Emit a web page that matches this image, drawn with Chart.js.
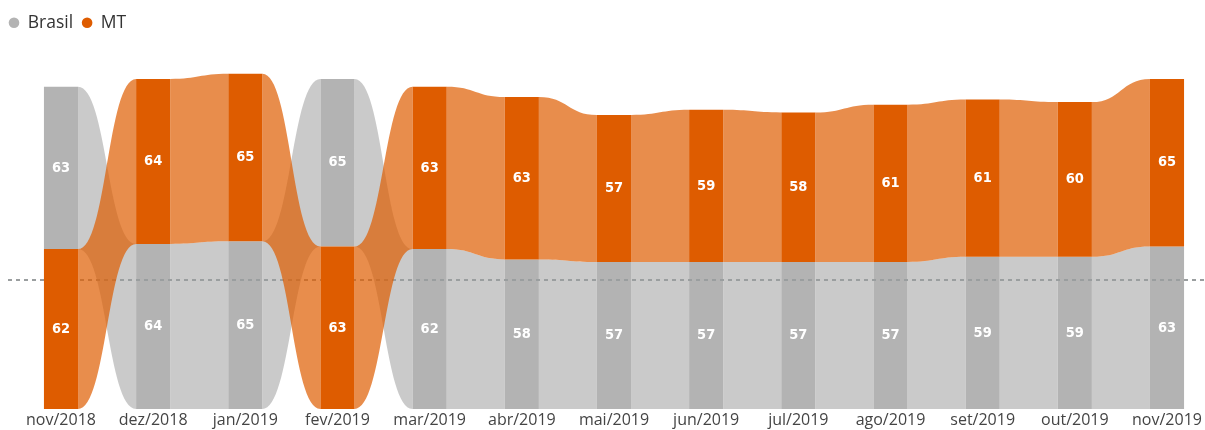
<!DOCTYPE html>
<html>
<head>
<meta charset="utf-8">
<script src="https://cdn.jsdelivr.net/npm/chart.js@4/dist/chart.umd.min.js"></script>
<style>
  html, body { margin: 0; padding: 0; background: #fff; }
  #wrap { width: 1205px; height: 430px; }
</style>
</head>
<body>
<div id="wrap"><canvas id="chart"></canvas></div>
<script>
const months = ['nov/2018', 'dez/2018', 'jan/2019', 'fev/2019', 'mar/2019', 'abr/2019', 'mai/2019',
  'jun/2019', 'jul/2019', 'ago/2019', 'set/2019', 'out/2019', 'nov/2019'];
const brasil = [63, 64, 65, 65, 62, 58, 57, 57, 57, 57, 59, 59, 63];
const mt = [62, 64, 65, 63, 63, 63, 57, 59, 58, 61, 61, 60, 65];
const refLine = 50;

const grayBar = '#b3b3b3';
const grayRibbon = 'rgba(179,179,179,0.7)';
const orangeBar = '#de5c00';
const orangeRibbon = 'rgba(222,92,0,0.7)';

// ribbon chart: the bigger value sits on top (ties -> MT on top)
const brasilTop = brasil.map((b, i) => b > mt[i]);
const brasilBars = brasil.map((b, i) => brasilTop[i] ? [mt[i], mt[i] + b] : [0, b]);
const mtBars = mt.map((m, i) => brasilTop[i] ? [0, m] : [brasil[i], brasil[i] + m]);

function drawRibbons(chart, dsIndex, color) {
  const ctx = chart.ctx;
  const bars = chart.getDatasetMeta(dsIndex).data;
  ctx.save();
  ctx.fillStyle = color;
  for (let i = 0; i < bars.length - 1; i++) {
    const a = bars[i], b = bars[i + 1];
    const x0 = a.x + a.width / 2, x1 = b.x - b.width / 2, xm = (x0 + x1) / 2;
    const aTop = Math.min(a.y, a.base), aBot = Math.max(a.y, a.base);
    const bTop = Math.min(b.y, b.base), bBot = Math.max(b.y, b.base);
    ctx.beginPath();
    ctx.moveTo(x0, aTop);
    ctx.bezierCurveTo(xm, aTop, xm, bTop, x1, bTop);
    ctx.lineTo(x1, bBot);
    ctx.bezierCurveTo(xm, bBot, xm, aBot, x0, aBot);
    ctx.closePath();
    ctx.fill();
  }
  ctx.restore();
}

const ribbonPlugin = {
  id: 'ribbons',
  beforeDatasetDraw(chart, args) {
    drawRibbons(chart, args.index, args.index === 0 ? grayRibbon : orangeRibbon);
  },
  afterDatasetDraw(chart, args) {
    if (args.index !== 0) return;
    // dotted reference line, over the gray but under the orange
    const y = chart.scales.y.getPixelForValue(refLine);
    const ctx = chart.ctx;
    ctx.save();
    ctx.strokeStyle = '#9a9e9f';
    ctx.lineWidth = 2;
    ctx.setLineDash([4, 4]);
    ctx.beginPath();
    ctx.moveTo(8, y);
    ctx.lineTo(chart.width, y);
    ctx.stroke();
    ctx.restore();
  },
  afterDatasetsDraw(chart) {
    const ctx = chart.ctx;
    ctx.save();
    ctx.font = 'bold 14.5px "DejaVu Sans Condensed", sans-serif';
    ctx.fillStyle = '#fff';
    ctx.textAlign = 'center';
    ctx.textBaseline = 'middle';
    [brasil, mt].forEach((vals, d) => {
      chart.getDatasetMeta(d).data.forEach((bar, i) => {
        ctx.fillText(String(vals[i]), bar.x, (bar.y + bar.base) / 2);
      });
    });
    ctx.restore();
  }
};

new Chart(document.getElementById('chart'), {
  type: 'bar',
  data: {
    labels: months,
    datasets: [
      { label: 'Brasil', data: brasilBars, backgroundColor: grayBar, order: 1 },
      { label: 'MT', data: mtBars, backgroundColor: orangeBar, order: 0 }
    ]
  },
  options: {
    responsive: true,
    maintainAspectRatio: false,
    animation: false,
    events: [],
    datasets: {
      bar: { grouped: false, categoryPercentage: 1, barPercentage: 0.37, clip: false }
    },
    layout: { padding: { top: 5 } },
    plugins: {
      tooltip: { enabled: false },
      legend: {
        position: 'top',
        align: 'start',
        labels: {
          usePointStyle: true,
          pointStyle: 'circle',
          boxWidth: 10,
          boxHeight: 7.5,
          padding: 9,
          color: '#333',
          font: { family: '"Open Sans", sans-serif', size: 17.5 },
          sort: (a, b) => a.datasetIndex - b.datasetIndex
        }
      }
    },
    scales: {
      x: {
        offset: false,
        grid: { display: false, drawTicks: false },
        border: { display: false },
        ticks: {
          color: '#444',
          padding: 3,
          maxRotation: 0,
          autoSkip: false,
          font: { family: '"Open Sans", sans-serif', size: 16, lineHeight: 1.1 }
        },
        afterFit(scale) { scale.height = 21; }
      },
      y: {
        min: 0,
        max: 142.5,
        grid: { display: false, drawTicks: false },
        border: { display: false },
        ticks: { display: false },
        afterFit(scale) { scale.width = 61; }
      },
      y2: {
        position: 'right',
        grid: { display: false, drawTicks: false },
        border: { display: false },
        ticks: { display: false },
        afterFit(scale) { scale.width = 38; }
      }
    }
  },
  plugins: [ribbonPlugin]
});
</script>
</body>
</html>
